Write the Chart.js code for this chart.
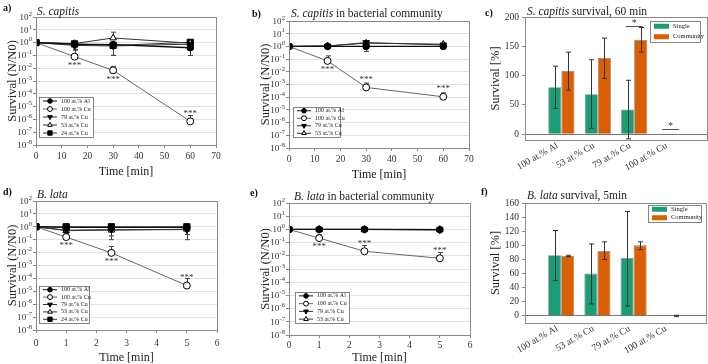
<!DOCTYPE html>
<html>
<head>
<meta charset="utf-8">
<script src="https://cdn.jsdelivr.net/npm/chart.js@4.4.0/dist/chart.umd.min.js"></script>
<style>
body { margin: 0; background: #fff; width: 708px; height: 364px; position: relative; overflow: hidden; font-family: "Liberation Serif", serif; }
canvas { position: absolute; left: 0; top: 0; }
.lbl { position: absolute; font-size: 11.5px; line-height: 1; color: #222; white-space: nowrap; }
.let { font-weight: bold; font-size: 10px; color: #111; }
</style>
</head>
<body>
<canvas id="ca" width="708" height="364"></canvas>
<canvas id="cb" width="708" height="364"></canvas>
<canvas id="cc" width="708" height="364"></canvas>
<canvas id="cd" width="708" height="364"></canvas>
<canvas id="ce" width="708" height="364"></canvas>
<canvas id="cf" width="708" height="364"></canvas>

<div class="lbl let" style="left:3px;top:3px">a)</div>
<div class="lbl" style="left:37px;top:6px"><i>S. capitis</i></div>
<div class="lbl let" style="left:252px;top:9px">b)</div>
<div class="lbl" style="left:291px;top:8px"><i>S. capitis</i> in bacterial community</div>
<div class="lbl let" style="left:485px;top:8px">c)</div>
<div class="lbl" style="left:527px;top:6px"><i>S. capitis</i> survival, 60 min</div>
<div class="lbl let" style="left:3px;top:187px">d)</div>
<div class="lbl" style="left:37px;top:189px"><i>B. lata</i></div>
<div class="lbl let" style="left:250px;top:188px">e)</div>
<div class="lbl" style="left:294px;top:191px"><i>B. lata</i> in bacterial community</div>
<div class="lbl let" style="left:481px;top:187px">f)</div>
<div class="lbl" style="left:527px;top:190px"><i>B. lata</i> survival, 5min</div>

<script>
// ---- data ----
const timesS = [0, 15, 30, 60];      // min, S. capitis
const timesB = [0, 1, 2.5, 5];       // min, B. lata
const seriesNames = ['100 at.% Al', '100 at.% Cu', '79 at.% Cu', '53 at.% Cu', '24 at.% Cu'];
const logExps = [-8, -7, -6, -5, -4, -3, -2, -1, 0, 1, 2];

// a) S. capitis
const aAl = [1, 0.75, 0.7, 0.4];
const aAlLo = [null, 0.45, 0.35, 0.1];
const aCu100 = [1, 0.08, 0.0068, 7e-7];
const aCu100Hi = [null, 0.3, 0.014, 2e-6];
const aCu79 = [1, 0.6, 0.55, 0.75];
const aCu79Lo = [null, 0.25, 0.1, 0.3];
const aCu53 = [1, 0.85, 2.3, 0.9];
const aCu53Hi = [null, 1.1, 6.5, 1.3];
const aCu24 = [1, 0.8, 0.6, 1.05];
const aCu24Lo = [null, 0.5, 0.1, 0.6];
const aStars = [0, 1, 1, -1];   // 1 = below point, -1 = above

// b) S. capitis in community
const bAl = [1, 1, 1, 1];
const bAlLo = [null, null, 0.4, null];
const bCu100 = [1, 0.072, 5.9e-4, 1.07e-4];
const bCu100Hi = [null, 0.18, 1.3e-3, 2.2e-4];
const bCu79 = [1, 1.05, 2.0, 1.3];
const bCu79Hi = [null, null, 2.6, null];
const bCu53 = [1, 1.1, 1.8, 1.5];
const bCu53Hi = [null, null, 2.4, 1.8];
const bStars = [0, 1, -1, -1];

// d) B. lata
const dAl = [1, 0.9, 0.9, 0.9];
const dCu100 = [1, 0.16, 0.0095, 2.8e-5];
const dCu100Hi = [null, 0.25, 0.03, 1e-4];
const dCu79 = [1, 0.55, 0.6, 0.6];
const dCu79Lo = [null, 0.3, 0.1, 0.1];
const dCu53 = [1, 0.5, 0.55, 0.65];
const dCu53Lo = [null, 0.3, 0.2, 0.25];
const dCu24 = [1, 1, 1, 1];
const dStars = [0, 1, 1, -1];

// e) B. lata in community
const eAl = [1, 1, 1, 0.95];
const eCu100 = [1, 0.22, 0.022, 0.0065];
const eCu100Hi = [null, 0.4, 0.06, 0.018];
const eCu79 = [1, 1, 1, 0.95];
const eCu53 = [1, 1, 1, 1];
const eStars = [0, 1, -1, -1];

// c) / f) bar panels
const barCats = ['100 at.% Al', '53 at.% Cu', '79 at.% Cu', '100 at.% Cu'];
const cSingle = [80, 68, 42, 0];
const cSingleLo = [44, 10, -8, null];
const cSingleHi = [116, 127, 92, null];
const cComm = [108, 130, 161, 0];
const cCommLo = [75, 95, 140, null];
const cCommHi = [140, 164, 182, null];
const cSig = [null, null, 185, 8];
const cTicks = [0, 50, 100, 150, 200];

const fSingle = [86, 60, 82, 0];
const fSingleLo = [50, 17, 14, null];
const fSingleHi = [121, 102, 148, null];
const fComm = [85, 92, 100, 0];
const fCommLo = [84, 80, 94, -1];
const fCommHi = [86, 105, 105, 1];
const fTicks = [0, 20, 40, 60, 80, 100, 120, 140, 160];

const FONT = 'Liberation Serif';
const GREEN = '#1b9e77', ORANGE = '#d95f02';

const markerStyles = [
  { pointStyle: 'circle', fill: '#000', rotation: 0, r: 3.3 },
  { pointStyle: 'circle', fill: '#fff', rotation: 0, r: 3.5 },
  { pointStyle: 'triangle', fill: '#000', rotation: 180, r: 3.8 },
  { pointStyle: 'triangle', fill: '#fff', rotation: 0, r: 3.8 },
  { pointStyle: 'rect', fill: '#000', rotation: 0, r: 4.4 }
];

// ---- plugins ----
const frame = {
  id: 'frame',
  afterDraw(chart) {
    const a = chart.chartArea, ctx = chart.ctx;
    ctx.save();
    ctx.strokeStyle = '#8a8a8a';
    ctx.lineWidth = 1;
    ctx.strokeRect(a.left + 0.5, a.top + 0.5, a.right - a.left, a.bottom - a.top);
    ctx.restore();
  }
};

function drawErrors(chart, opts) {
  const ctx = chart.ctx, ys = chart.scales.y;
  ctx.save();
  ctx.strokeStyle = opts.color || '#333';
  ctx.lineWidth = 1;
  chart.data.datasets.forEach((ds, i) => {
    const meta = chart.getDatasetMeta(i);
    meta.data.forEach((el, k) => {
      [ds.errLo, ds.errHi].forEach(arr => {
        if (!arr || arr[k] == null) return;
        const y1 = ys.getPixelForValue(arr[k]);
        const x = Math.round(el.x) + 0.5;
        ctx.beginPath();
        ctx.moveTo(x, el.y);
        ctx.lineTo(x, y1);
        ctx.moveTo(x - opts.cap, y1);
        ctx.lineTo(x + opts.cap, y1);
        ctx.stroke();
      });
    });
  });
  ctx.restore();
}

const errorBars = {
  id: 'errorBars',
  beforeDatasetsDraw(chart, args, opts) { if (opts.under) drawErrors(chart, opts); },
  afterDatasetsDraw(chart, args, opts) { if (!opts.under) drawErrors(chart, opts); }
};

const stars = {
  id: 'stars',
  afterDatasetsDraw(chart) {
    const ctx = chart.ctx;
    ctx.save();
    ctx.fillStyle = '#333';
    ctx.font = '9px ' + FONT;
    ctx.textAlign = 'center';
    ctx.textBaseline = 'middle';
    chart.data.datasets.forEach((ds, i) => {
      if (!ds.stars) return;
      const meta = chart.getDatasetMeta(i);
      ds.stars.forEach((d, k) => {
        if (!d) return;
        const el = meta.data[k];
        ctx.fillText('***', el.x, el.y + (d > 0 ? 9 : -8));
      });
    });
    ctx.restore();
  }
};

const sigMarks = {
  id: 'sigMarks',
  afterDatasetsDraw(chart, args, opts) {
    if (!opts.values) return;
    const ctx = chart.ctx, ys = chart.scales.y;
    const m0 = chart.getDatasetMeta(0), m1 = chart.getDatasetMeta(1);
    ctx.save();
    ctx.strokeStyle = '#555';
    ctx.fillStyle = '#333';
    ctx.lineWidth = 1;
    ctx.font = '10px ' + FONT;
    ctx.textAlign = 'center';
    ctx.textBaseline = 'middle';
    opts.values.forEach((v, k) => {
      if (v == null) return;
      const x0 = m0.data[k + 1].x, x1 = m1.data[k + 1].x;
      const y = Math.round(ys.getPixelForValue(v)) + 0.5;
      ctx.beginPath();
      ctx.moveTo(x0 - 2, y);
      ctx.lineTo(x1 + 2, y);
      ctx.stroke();
      ctx.fillText('*', (x0 + x1) / 2, y - 3);
    });
    ctx.restore();
  }
};

const boxLegend = {
  id: 'boxLegend',
  afterDraw(chart, args, opts) {
    if (!opts.box) return;
    const ctx = chart.ctx, b = opts.box;
    const dss = chart.data.datasets;
    const rh = b.h / dss.length;
    ctx.save();
    ctx.fillStyle = '#fff';
    ctx.fillRect(b.x, b.y, b.w, b.h);
    ctx.strokeStyle = '#666';
    ctx.lineWidth = 0.8;
    ctx.strokeRect(b.x + 0.5, b.y + 0.5, b.w, b.h);
    ctx.textBaseline = 'middle';
    ctx.font = opts.fontSize + 'px ' + FONT;
    dss.forEach((ds, i) => {
      const cy = b.y + rh * (i + 0.5);
      if (opts.bars) {
        ctx.fillStyle = ds.backgroundColor;
        ctx.fillRect(b.x + 4, cy - 2.5, 15, 5);
        ctx.fillStyle = '#222';
        ctx.fillText(ds.label, b.x + 23, cy);
      } else {
        ctx.strokeStyle = ds.borderColor;
        ctx.lineWidth = 1;
        ctx.beginPath();
        ctx.moveTo(b.x + 4, cy);
        ctx.lineTo(b.x + 18, cy);
        ctx.stroke();
        ctx.fillStyle = ds.pointBackgroundColor;
        ctx.strokeStyle = '#000';
        Chart.helpers.drawPoint(ctx, { pointStyle: ds.pointStyle, rotation: ds.pointRotation, radius: ds.pointRadius * 0.7, borderWidth: 1 }, b.x + 11, cy);
        ctx.fillStyle = '#222';
        ctx.fillText(ds.label, b.x + 22, cy);
      }
    });
    ctx.restore();
  }
};

const logLabels = {
  id: 'logLabels',
  afterDraw(chart, args, opts) {
    if (!opts.on) return;
    const ctx = chart.ctx, s = chart.scales.y;
    const xr = chart.chartArea.left - 4;
    ctx.save();
    ctx.fillStyle = '#333';
    ctx.textAlign = 'right';
    ctx.textBaseline = 'middle';
    logExps.forEach(e => {
      const y = s.getPixelForValue(Math.pow(10, e));
      ctx.font = '6.5px ' + FONT;
      const exp = String(e);
      const ew = ctx.measureText(exp).width;
      ctx.fillText(exp, xr, y - 3);
      ctx.font = '9px ' + FONT;
      ctx.fillText('10', xr - ew - 0.3, y + 0.5);
    });
    ctx.restore();
  }
};

Chart.register(frame, errorBars, stars, sigMarks, boxLegend, logLabels);

// ---- builders ----
function padding(area, yW, xH) {
  return { left: area.l - yW, top: area.t, right: 708 - area.r, bottom: 364 - area.b - xH };
}

function lineSet(i, times, vals, lo, hi, starDirs) {
  const m = markerStyles[i];
  return {
    label: seriesNames[i],
    data: times.map((t, k) => ({ x: t, y: vals[k] })),
    errLo: lo, errHi: hi, stars: starDirs,
    borderColor: i === 1 ? '#666' : (i === 0 ? '#111' : '#333'),
    borderWidth: i === 0 ? 1.4 : 1,
    pointStyle: m.pointStyle,
    pointRotation: m.rotation,
    pointRadius: m.r,
    pointBackgroundColor: m.fill,
    pointBorderColor: '#000',
    pointBorderWidth: 1
  };
}

function logChart(id, area, xMax, xStep, xTickPad, xH, datasets, legendBox) {
  const yW = 30;
  return new Chart(document.getElementById(id), {
    type: 'line',
    data: { datasets: datasets },
    options: {
      responsive: false, animation: false, events: [],
      layout: { padding: padding(area, yW, xH) },
      plugins: {
        legend: { display: false }, tooltip: { enabled: false },
        errorBars: { under: true, cap: 2.5, color: '#444' },
        boxLegend: { box: legendBox, fontSize: 6 },
        logLabels: { on: true }
      },
      scales: {
        x: {
          type: 'linear', min: 0, max: xMax,
          ticks: { stepSize: xStep, padding: xTickPad, color: '#333', font: { family: FONT, size: 9.5 } },
          grid: { drawOnChartArea: false, tickLength: 3, color: '#888' },
          border: { display: false },
          title: { display: true, text: 'Time [min]', color: '#222', padding: 0, font: { family: FONT, size: 12, lineHeight: 1 } },
          afterFit: s => { s.height = xH; s.paddingLeft = 0; s.paddingRight = 0; }
        },
        y: {
          type: 'logarithmic', min: 1e-8, max: 100,
          afterBuildTicks: s => { s.ticks = logExps.map(e => ({ value: Math.pow(10, e) })); },
          ticks: { callback: () => '', autoSkip: false },
          grid: { color: '#e2e2e2', tickLength: 3, tickColor: '#888' },
          border: { display: false },
          title: { display: true, text: 'Survival (N/N0)', color: '#222', padding: 0, font: { family: FONT, size: 12.5, lineHeight: 1 } },
          afterFit: s => { s.width = yW; s.paddingTop = 0; s.paddingBottom = 0; }
        }
      }
    }
  });
}

const pad = arr => [null].concat(arr, [null]);

function barChart(id, area, yMax, ticks, single, singleLo, singleHi, comm, commLo, commHi, sig, legendBox) {
  const yW = 36, xH = 40;
  return new Chart(document.getElementById(id), {
    type: 'bar',
    data: {
      labels: [''].concat(barCats, ['']),
      datasets: [
        { label: 'Single', data: pad(single), errLo: pad(singleLo), errHi: pad(singleHi), backgroundColor: GREEN, borderColor: 'rgba(50,50,50,0.6)', borderWidth: 0.8 },
        { label: 'Community', data: pad(comm), errLo: pad(commLo), errHi: pad(commHi), backgroundColor: ORANGE, borderColor: 'rgba(50,50,50,0.6)', borderWidth: 0.8 }
      ]
    },
    options: {
      responsive: false, animation: false, events: [],
      layout: { padding: padding(area, yW, xH) },
      datasets: { bar: { categoryPercentage: 0.72, barPercentage: 1 } },
      plugins: {
        legend: { display: false }, tooltip: { enabled: false },
        errorBars: { under: false, cap: 2.5, color: '#333' },
        sigMarks: { values: sig },
        boxLegend: { box: legendBox, fontSize: 6.5, bars: true }
      },
      scales: {
        x: {
          type: 'category', offset: false,
          ticks: { minRotation: 30, maxRotation: 30, autoSkip: false, padding: -8, labelOffset: -4, color: '#333', font: { family: FONT, size: 9.5 } },
          grid: { display: false },
          border: { display: false },
          afterFit: s => { s.height = xH; s.paddingLeft = 0; s.paddingRight = 0; }
        },
        y: {
          min: -10, max: yMax,
          afterBuildTicks: s => { s.ticks = ticks.map(v => ({ value: v })); },
          ticks: { padding: 3, color: '#333', font: { family: FONT, size: 9.5 } },
          grid: { color: c => c.tick.value === 0 ? '#777' : 'rgba(0,0,0,0)', tickColor: '#888', tickLength: 3 },
          border: { display: false },
          title: { display: true, text: 'Survival [%]', color: '#222', padding: 0, font: { family: FONT, size: 12.5, lineHeight: 1 } },
          afterFit: s => { s.width = yW; s.paddingTop = 0; s.paddingBottom = 0; }
        }
      }
    }
  });
}

// ---- panels ----
logChart('ca', { l: 36, t: 17, r: 216, b: 145 }, 70, 10, 2.5, 33, [
  lineSet(0, timesS, aAl, aAlLo, null),
  lineSet(1, timesS, aCu100, null, aCu100Hi, aStars),
  lineSet(2, timesS, aCu79, aCu79Lo, null),
  lineSet(3, timesS, aCu53, null, aCu53Hi),
  lineSet(4, timesS, aCu24, aCu24Lo, null)
], { x: 39, y: 97, w: 54, h: 40 });

logChart('cb', { l: 289, t: 21, r: 469, b: 148 }, 70, 10, 2.5, 33, [
  lineSet(0, timesS, bAl, bAlLo, null),
  lineSet(1, timesS, bCu100, null, bCu100Hi, bStars),
  lineSet(2, timesS, bCu79, null, bCu79Hi),
  lineSet(3, timesS, bCu53, null, bCu53Hi)
], { x: 293, y: 107, w: 47, h: 30 });

barChart('cc', { l: 525, t: 17, r: 707, b: 140 }, 200, cTicks,
  cSingle, cSingleLo, cSingleHi, cComm, cCommLo, cCommHi, cSig,
  { x: 650, y: 21, w: 50, h: 21 });

logChart('cd', { l: 36, t: 201, r: 217, b: 330 }, 6, 1, 5, 34, [
  lineSet(0, timesB, dAl, null, null),
  lineSet(1, timesB, dCu100, null, dCu100Hi, dStars),
  lineSet(2, timesB, dCu79, dCu79Lo, null),
  lineSet(3, timesB, dCu53, dCu53Lo, null),
  lineSet(4, timesB, dCu24, null, null)
], { x: 39, y: 286, w: 50, h: 37 });

logChart('ce', { l: 289, t: 203, r: 470, b: 335 }, 6, 1, 1.5, 29, [
  lineSet(0, timesB, eAl, null, null),
  lineSet(1, timesB, eCu100, null, eCu100Hi, eStars),
  lineSet(2, timesB, eCu79, null, null),
  lineSet(3, timesB, eCu53, null, null)
], { x: 295, y: 292, w: 54, h: 31 });

barChart('cf', { l: 525, t: 203, r: 706, b: 323 }, 160, fTicks,
  fSingle, fSingleLo, fSingleHi, fComm, fCommLo, fCommHi, null,
  { x: 648, y: 205, w: 53, h: 17 });
</script>
</body>
</html>
